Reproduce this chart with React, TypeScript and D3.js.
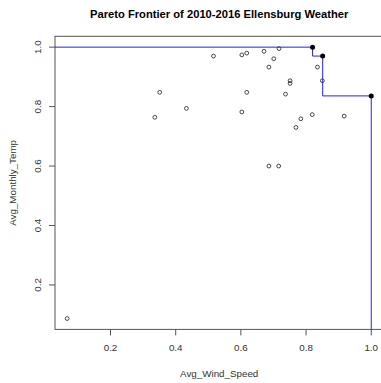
import React from "react";
import * as d3 from "d3";

// Normalised monthly observations: wind speed vs temperature
const windSpeed = [
  0.516, 0.603, 0.618, 0.671, 0.717, 0.701, 0.686, 0.835, 0.751, 0.751,
  0.850, 0.618, 0.737, 0.603, 0.819, 0.917, 0.784, 0.769, 0.686, 0.716,
  0.351, 0.433, 0.336, 0.067,
];
const monthlyTemp = [
  0.970, 0.974, 0.980, 0.986, 0.995, 0.961, 0.933, 0.933, 0.887, 0.878,
  0.887, 0.848, 0.842, 0.782, 0.773, 0.768, 0.759, 0.730, 0.600, 0.600,
  0.848, 0.794, 0.764, 0.087,
];

// Non-dominated points forming the Pareto frontier
const frontierWind = [0.82, 0.851, 1.0];
const frontierTemp = [1.0, 0.97, 0.836];

const xTicks = [0.2, 0.4, 0.6, 0.8, 1.0];
const yTicks = [0.2, 0.4, 0.6, 0.8, 1.0];

const W = 381;
const H = 383;
const FONT = "'Liberation Sans', Arial, sans-serif";

export default function App() {
  const allX = windSpeed.concat(frontierWind);
  const allY = monthlyTemp.concat(frontierTemp);
  const [x0, x1] = d3.extent(allX) as [number, number];
  const [y0, y1] = d3.extent(allY) as [number, number];
  const padX = (x1 - x0) * 0.04;
  const padY = (y1 - y0) * 0.04;

  const x = d3.scaleLinear().domain([x0 - padX, x1 + padX]).range([55, 383.4]);
  const y = d3.scaleLinear().domain([y0 - padY, y1 + padY]).range([329.4, 36.3]);

  const [xl, xr] = x.range();
  const [yb, yt] = y.range();

  const stepPts: [number, number][] = [
    [x.domain()[0], frontierTemp[0]],
    ...frontierWind.map((w, i) => [w, frontierTemp[i]] as [number, number]),
    [frontierWind[frontierWind.length - 1], y.domain()[0]],
  ];
  const stepLine = d3
    .line<[number, number]>()
    .x((d) => x(d[0]))
    .y((d) => y(d[1]))
    .curve(d3.curveStepBefore);

  const axisColor = "#555";

  return (
    <svg
      width={W}
      height={H}
      style={{ position: "absolute", left: 0, top: 0, background: "#fff" }}
    >
      <rect width={W} height={H} fill="#fff" />
      <text
        x={(xl + xr) / 2}
        y={17.5}
        textAnchor="middle"
        fontFamily={FONT}
        fontWeight="bold"
        fontSize={11.2}
        fill="#000"
      >
        Pareto Frontier of 2010-2016 Ellensburg Weather
      </text>

      {/* plot box */}
      <rect
        x={xl}
        y={yt}
        width={xr - xl}
        height={yb - yt}
        fill="none"
        stroke={axisColor}
        strokeWidth={1}
      />

      {/* x axis */}
      {xTicks.map((t) => (
        <g key={"x" + t}>
          <line x1={x(t)} x2={x(t)} y1={yb} y2={yb + 6} stroke={axisColor} />
          <text
            x={x(t)}
            y={yb + 22}
            textAnchor="middle"
            fontFamily={FONT}
            fontSize={9.8}
            fill="#333"
          >
            {t.toFixed(1)}
          </text>
        </g>
      ))}
      <text
        x={(xl + xr) / 2}
        y={377}
        textAnchor="middle"
        fontFamily={FONT}
        fontSize={9.8}
        fill="#333"
      >
        Avg_Wind_Speed
      </text>

      {/* y axis */}
      {yTicks.map((t) => (
        <g key={"y" + t}>
          <line x1={xl - 6} x2={xl} y1={y(t)} y2={y(t)} stroke={axisColor} />
          <text
            transform={`translate(${xl - 14},${y(t)}) rotate(-90)`}
            textAnchor="middle"
            fontFamily={FONT}
            fontSize={9.8}
            fill="#333"
          >
            {t.toFixed(1)}
          </text>
        </g>
      ))}
      <text
        transform={`translate(16,${(yt + yb) / 2}) rotate(-90)`}
        textAnchor="middle"
        fontFamily={FONT}
        fontSize={9.8}
        fill="#333"
      >
        Avg_Monthly_Temp
      </text>

      {/* frontier step line */}
      <path d={stepLine(stepPts) ?? ""} fill="none" stroke="#2020ff" strokeWidth={1} />

      {/* observations */}
      {windSpeed.map((w, i) => (
        <circle
          key={"p" + i}
          cx={x(w)}
          cy={y(monthlyTemp[i])}
          r={1.9}
          fill="none"
          stroke="#333"
          strokeWidth={0.9}
        />
      ))}
      {frontierWind.map((w, i) => (
        <circle key={"f" + i} cx={x(w)} cy={y(frontierTemp[i])} r={2.5} fill="#000" />
      ))}
    </svg>
  );
}
